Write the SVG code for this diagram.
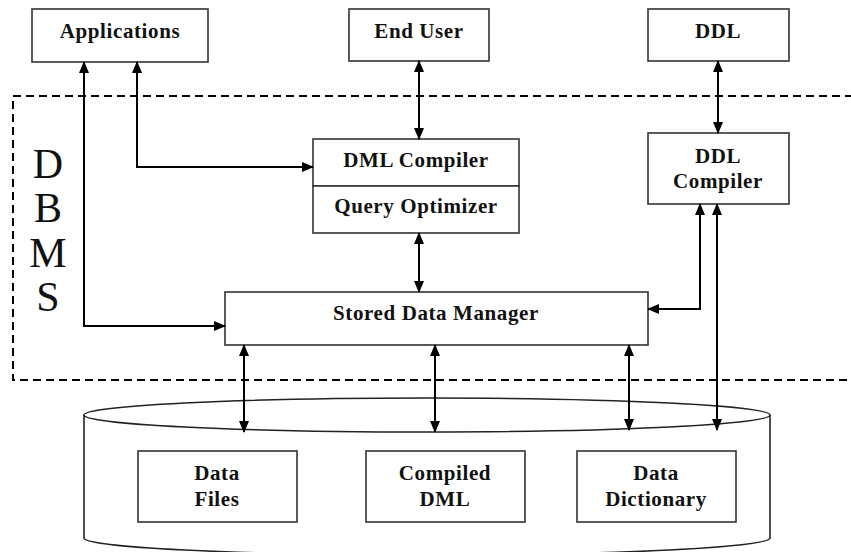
<svg xmlns="http://www.w3.org/2000/svg" width="851" height="552" viewBox="0 0 851 552">
<defs>
<marker id="ah" markerUnits="userSpaceOnUse" markerWidth="12" markerHeight="10" refX="11" refY="5" orient="auto-start-reverse">
<path d="M0,0 L12,5 L0,10 z" fill="#000"/>
</marker>
</defs>
<style>
.box{fill:#fff;stroke:#333;stroke-width:1.6}
.con{fill:none;stroke:#000;stroke-width:2;marker-start:url(#ah);marker-end:url(#ah)}
.dash{fill:none;stroke:#000;stroke-width:2;stroke-dasharray:8,5}
.cyl{fill:#fff;stroke:#222;stroke-width:1.6}
</style>
<rect width="851" height="552" fill="#fff"/>
<rect class="dash" x="13" y="96" width="860" height="284"/>
<g id="dbms-label" font-family="Liberation Serif" font-size="42" text-anchor="middle" fill="#111">
<text x="48" y="178">D</text>
<text x="48" y="222">B</text>
<text x="48" y="267">M</text>
<text x="48" y="311">S</text>
</g>
<g id="database">
<path class="cyl" d="M84,415 V538 A343,17 0 0 0 770,538 V415"/>
<ellipse class="cyl" cx="427" cy="415" rx="343" ry="17"/>
</g>
<g font-family="Liberation Serif" font-weight="bold" font-size="21" letter-spacing="0.6" text-anchor="middle" fill="#111">
<g id="applications"><rect class="box" x="32" y="9" width="176" height="53"/><text x="120" y="38">Applications</text></g>
<g id="end-user"><rect class="box" x="349" y="9" width="140" height="52"/><text x="419" y="38">End User</text></g>
<g id="ddl"><rect class="box" x="648" y="9" width="141" height="52"/><text x="718" y="38">DDL</text></g>
<g id="dml-compiler"><rect class="box" x="313" y="139" width="206" height="47"/><text x="416" y="167">DML Compiler</text></g>
<g id="query-optimizer"><rect class="box" x="313" y="186" width="206" height="47"/><text x="416" y="213">Query Optimizer</text></g>
<g id="ddl-compiler"><rect class="box" x="648" y="133" width="141" height="71"/><text x="718" y="163">DDL</text><text x="718" y="188">Compiler</text></g>
<g id="stored-data-manager"><rect class="box" x="225" y="292" width="423" height="53"/><text x="436" y="320">Stored Data Manager</text></g>
<g id="data-files"><rect class="box" x="138" y="451" width="159" height="71"/><text x="217" y="480">Data</text><text x="217" y="506">Files</text></g>
<g id="compiled-dml"><rect class="box" x="366" y="451" width="159" height="71"/><text x="445" y="480">Compiled</text><text x="445" y="506">DML</text></g>
<g id="data-dictionary"><rect class="box" x="577" y="451" width="159" height="71"/><text x="656" y="480">Data</text><text x="656" y="506">Dictionary</text></g>
</g>
<g id="connectors">
<path class="con" d="M84,62 V326 H225"/>
<path class="con" d="M137,62 V167 H313"/>
<path class="con" d="M419,61 V139"/>
<path class="con" d="M718,61 V133"/>
<path class="con" d="M419,233 V292"/>
<path class="con" d="M700,204 V309 H648"/>
<path class="con" d="M717,204 V430"/>
<path class="con" d="M244,345 V432"/>
<path class="con" d="M435,345 V432"/>
<path class="con" d="M629,345 V430"/>
</g>
</svg>
